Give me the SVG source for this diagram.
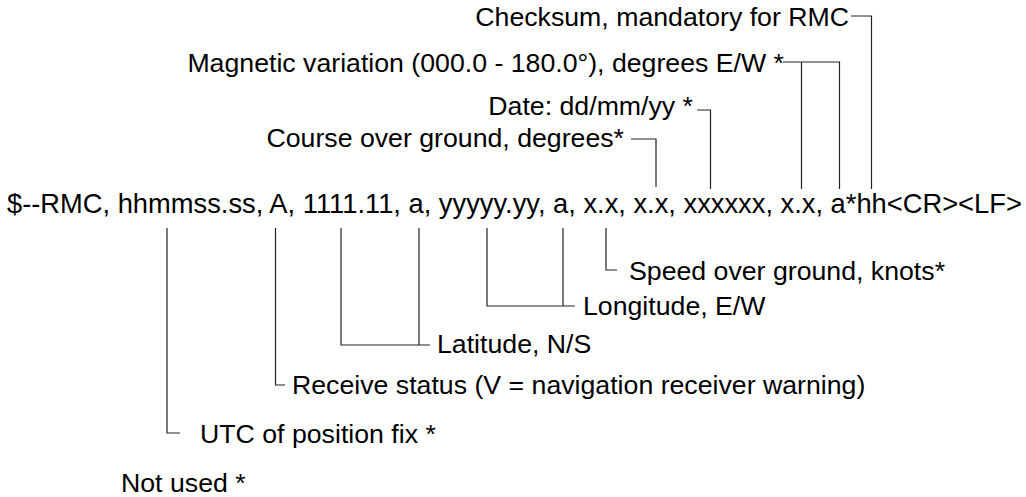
<svg xmlns="http://www.w3.org/2000/svg" width="1026" height="497" viewBox="0 0 1026 497">
<style>
text{font-family:"Liberation Sans",Arial,sans-serif;font-size:26.7px;fill:#000}
.main{font-size:27.3px}
.c line,.c polyline{stroke:#222;stroke-width:1.2;fill:none}
</style>
<rect width="1026" height="497" fill="#fff"/>
<g id="sentence"><text class="main" x="7" y="213">$--RMC, hhmmss.ss, A, 1111.11, a, yyyyy.yy, a, x.x, x.x, xxxxxx, x.x, a*hh&lt;CR&gt;&lt;LF&gt;</text></g>
<g id="checksum"><text x="849" y="26" text-anchor="end">Checksum, mandatory for RMC</text></g>
<g id="magvar"><text x="784" y="72" text-anchor="end">Magnetic variation (000.0 - 180.0°), degrees E/W *</text></g>
<g id="date"><text x="693" y="115" text-anchor="end">Date: dd/mm/yy *</text></g>
<g id="course"><text x="624" y="147" text-anchor="end">Course over ground, degrees*</text></g>
<g id="speed"><text x="629" y="280">Speed over ground, knots*</text></g>
<g id="longitude"><text x="583" y="315">Longitude, E/W</text></g>
<g id="latitude"><text x="437" y="353">Latitude, N/S</text></g>
<g id="status"><text x="292" y="394">Receive status (V = navigation receiver warning)</text></g>
<g id="utc"><text x="200" y="443">UTC of position fix *</text></g>
<g id="notused"><text x="121" y="492">Not used *</text></g>
<g id="connectors" class="c">
<polyline points="851,16 871.5,16 871.5,189"/>
<polyline points="783,62 839.5,62 839.5,189"/>
<line x1="801.5" y1="62" x2="801.5" y2="189"/>
<polyline points="697,110 710.5,110 710.5,189"/>
<polyline points="631,139 656,139 656,187"/>
<polyline points="606,228 606,270 617,270"/>
<polyline points="487,228 487,306 575,306"/>
<line x1="563" y1="228" x2="563" y2="306"/>
<polyline points="341,228 341,345 430,345"/>
<line x1="419" y1="228" x2="419" y2="345"/>
<polyline points="275.5,228 275.5,385 285,385"/>
<polyline points="167,228 167,433 180,433"/>
</g>
</svg>
